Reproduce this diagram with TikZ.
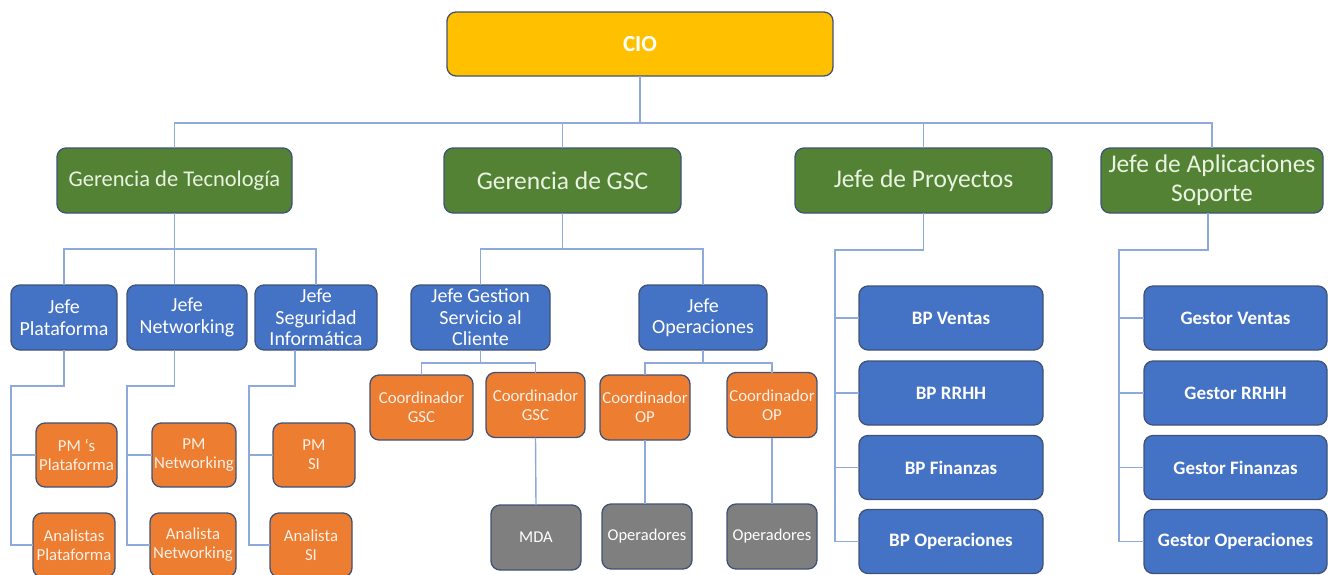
\documentclass[tikz,border=0pt]{standalone}
\usepackage{fontspec}
\setmainfont{Carlito}
\usetikzlibrary{calc}

\definecolor{cioFill}{HTML}{FFC000}
\definecolor{mgrFill}{HTML}{548235}
\definecolor{bluFill}{HTML}{4472C4}
\definecolor{orgFill}{HTML}{ED7D31}
\definecolor{gryFill}{HTML}{7F7F7F}
\definecolor{edge}{HTML}{3F5377}
\definecolor{wire}{HTML}{8EA9DB}
\definecolor{mgrText}{HTML}{E8F3E0}
\definecolor{orgText}{HTML}{FDF0E6}

\tikzset{
  box/.style={draw=edge, line width=1.3pt, rounded corners=9pt, inner sep=0pt,
    outer sep=0pt, align=center, minimum height=65pt},
  cio/.style={box, fill=cioFill, text=white, font=\fontsize{23}{28}\selectfont\bfseries},
  mgr/.style={box, fill=mgrFill, text=mgrText, font=\fontsize{25.5}{29}\selectfont},
  head/.style={box, fill=bluFill, text=white, font=\fontsize{20}{21.5}\selectfont},
  unit/.style={box, fill=bluFill, text=white, font=\fontsize{19}{22}\selectfont\bfseries, minimum height=64pt},
  lead/.style={box, fill=orgFill, text=orgText, font=\fontsize{16.8}{19}\selectfont},
  staff/.style={box, fill=gryFill, text=white, font=\fontsize{16.5}{19}\selectfont},
  conn/.style={draw=wire, line width=1.4pt}
}

\begin{document}
\begin{tikzpicture}[x=1pt, y=-1pt]
\useasboundingbox (0,0) rectangle (1328,574);

% top
\node[cio, minimum width=386pt, minimum height=64pt] (cio) at (640,44) {CIO};

% managers
\node[mgr, minimum width=235pt, font=\fontsize{22.5}{28}\selectfont] (gt) at (174.5,180.5) {Gerencia de Tecnología};
\node[mgr, minimum width=237pt] (gg) at (562.5,180.5) {Gerencia de GSC};
\node[mgr, minimum width=257pt] (gp) at (923.5,180.5) {Jefe de Proyectos};
\node[mgr, minimum width=222pt] (ga) at (1212,180.5) {Jefe de Aplicaciones\\Soporte};

% technology heads
\node[head, minimum width=106pt] (jp) at (64,317.5) {Jefe\\Plataforma};
\node[head, minimum width=120pt] (jn) at (187,317.5) {Jefe\\Networking};
\node[head, minimum width=122pt] (js) at (316,317.5) {Jefe\\Seguridad\\Informática};

\node[lead, minimum width=81pt, minimum height=64pt] (pmp) at (76.5,455) {PM ‘s\\Plataforma};
\node[lead, minimum width=82pt, minimum height=64pt] (anp) at (74,545) {Analistas\\Plataforma};
\node[lead, minimum width=84pt, minimum height=64pt] (pmn) at (194,455) {PM\\Networking};
\node[lead, minimum width=86pt, minimum height=64pt] (ann) at (193,545) {Analista\\Networking};
\node[lead, minimum width=82pt, minimum height=64pt] (pms) at (314,455) {PM\\SI};
\node[lead, minimum width=82pt, minimum height=64pt] (ans) at (311,545) {Analista\\SI};

% GSC heads
\node[head, minimum width=139pt] (jg) at (480.5,317.5) {Jefe Gestion\\Servicio al\\Cliente};
\node[head, minimum width=128pt] (jo) at (703,317.5) {Jefe\\Operaciones};

\node[lead, minimum width=103pt] (cg1) at (421.5,407.5) {Coordinador\\GSC};
\node[lead, minimum width=99pt] (cg2) at (535.5,405) {Coordinador\\GSC};
\node[lead, minimum width=90pt] (co1) at (645,407.5) {Coordinador\\OP};
\node[lead, minimum width=90pt] (co2) at (772,405) {Coordinador\\OP};

\node[staff, minimum width=90pt] (mda) at (536,537.5) {MDA};
\node[staff, minimum width=90pt] (op1) at (647,536.5) {Operadores};
\node[staff, minimum width=90pt] (op2) at (772,536.5) {Operadores};

% project units
\node[unit, minimum width=184pt] (bp1) at (951,318) {BP Ventas};
\node[unit, minimum width=184pt] (bp2) at (951,393) {BP RRHH};
\node[unit, minimum width=184pt] (bp3) at (951,467.5) {BP Finanzas};
\node[unit, minimum width=184pt] (bp4) at (951,541.5) {BP Operaciones};

% application units
\node[unit, minimum width=183pt] (gs1) at (1235.5,318) {Gestor Ventas};
\node[unit, minimum width=183pt] (gs2) at (1235.5,393) {Gestor RRHH};
\node[unit, minimum width=183pt] (gs3) at (1235.5,467.5) {Gestor Finanzas};
\node[unit, minimum width=183pt] (gs4) at (1235.5,541.5) {Gestor Operaciones};

% ---- connectors ----
\coordinate (topbus) at (640,123);
\draw[conn] (cio.south) -- (topbus);
\draw[conn] (gt.north) |- (topbus) -| (ga.north);
\draw[conn] (gg.north) -- (gg.north |- topbus);
\draw[conn] (gp.north) -- (gp.north |- topbus);

% technology branch
\coordinate (tbus) at (174.5,249);
\draw[conn] (gt.south) -- (tbus);
\draw[conn] (jp.north) |- (tbus) -| (js.north);
\draw[conn] (tbus) -- (tbus |- jn.north);

\coordinate (pOut) at (64,350);
\coordinate (pRail) at (11,386);
\draw[conn] (pOut) |- (pRail) |- (anp.west);
\draw[conn] (pRail |- pmp.west) -- (pmp.west);

\coordinate (nOut) at (174.5,350);
\coordinate (nRail) at (127,386);
\draw[conn] (nOut) |- (nRail) |- (ann.west);
\draw[conn] (nRail |- pmn.west) -- (pmn.west);

\coordinate (sOut) at (295,350);
\coordinate (sRail) at (249,386);
\draw[conn] (sOut) |- (sRail) |- (ans.west);
\draw[conn] (sRail |- pms.west) -- (pms.west);

% GSC branch
\coordinate (gbus) at (562.5,249);
\draw[conn] (gg.south) -- (gbus);
\draw[conn] (jg.north) |- (gbus) -| (jo.north);

\coordinate (jgbus) at (480.5,363);
\draw[conn] (jg.south) -- (jgbus);
\draw[conn] (cg1.north) |- (jgbus) -| (cg2.north);
\coordinate (jobus) at (703,363);
\draw[conn] (jo.south) -- (jobus);
\draw[conn] (co1.north) |- (jobus) -| (co2.north);

\draw[conn] (cg2.south) -- (mda.north);
\draw[conn] (co1.south) -- (co1.south |- op1.north);
\draw[conn] (co2.south) -- (op2.north);

% project branch
\coordinate (prRail) at (835,250);
\draw[conn] (gp.south) |- (prRail) |- (bp4.west);
\draw[conn] (prRail |- bp1.west) -- (bp1.west);
\draw[conn] (prRail |- bp2.west) -- (bp2.west);
\draw[conn] (prRail |- bp3.west) -- (bp3.west);

% application branch
\coordinate (apOut) at (1208,213);
\coordinate (apRail) at (1119,250);
\draw[conn] (apOut) |- (apRail) |- (gs4.west);
\draw[conn] (apRail |- gs1.west) -- (gs1.west);
\draw[conn] (apRail |- gs2.west) -- (gs2.west);
\draw[conn] (apRail |- gs3.west) -- (gs3.west);

\end{tikzpicture}
\end{document}
